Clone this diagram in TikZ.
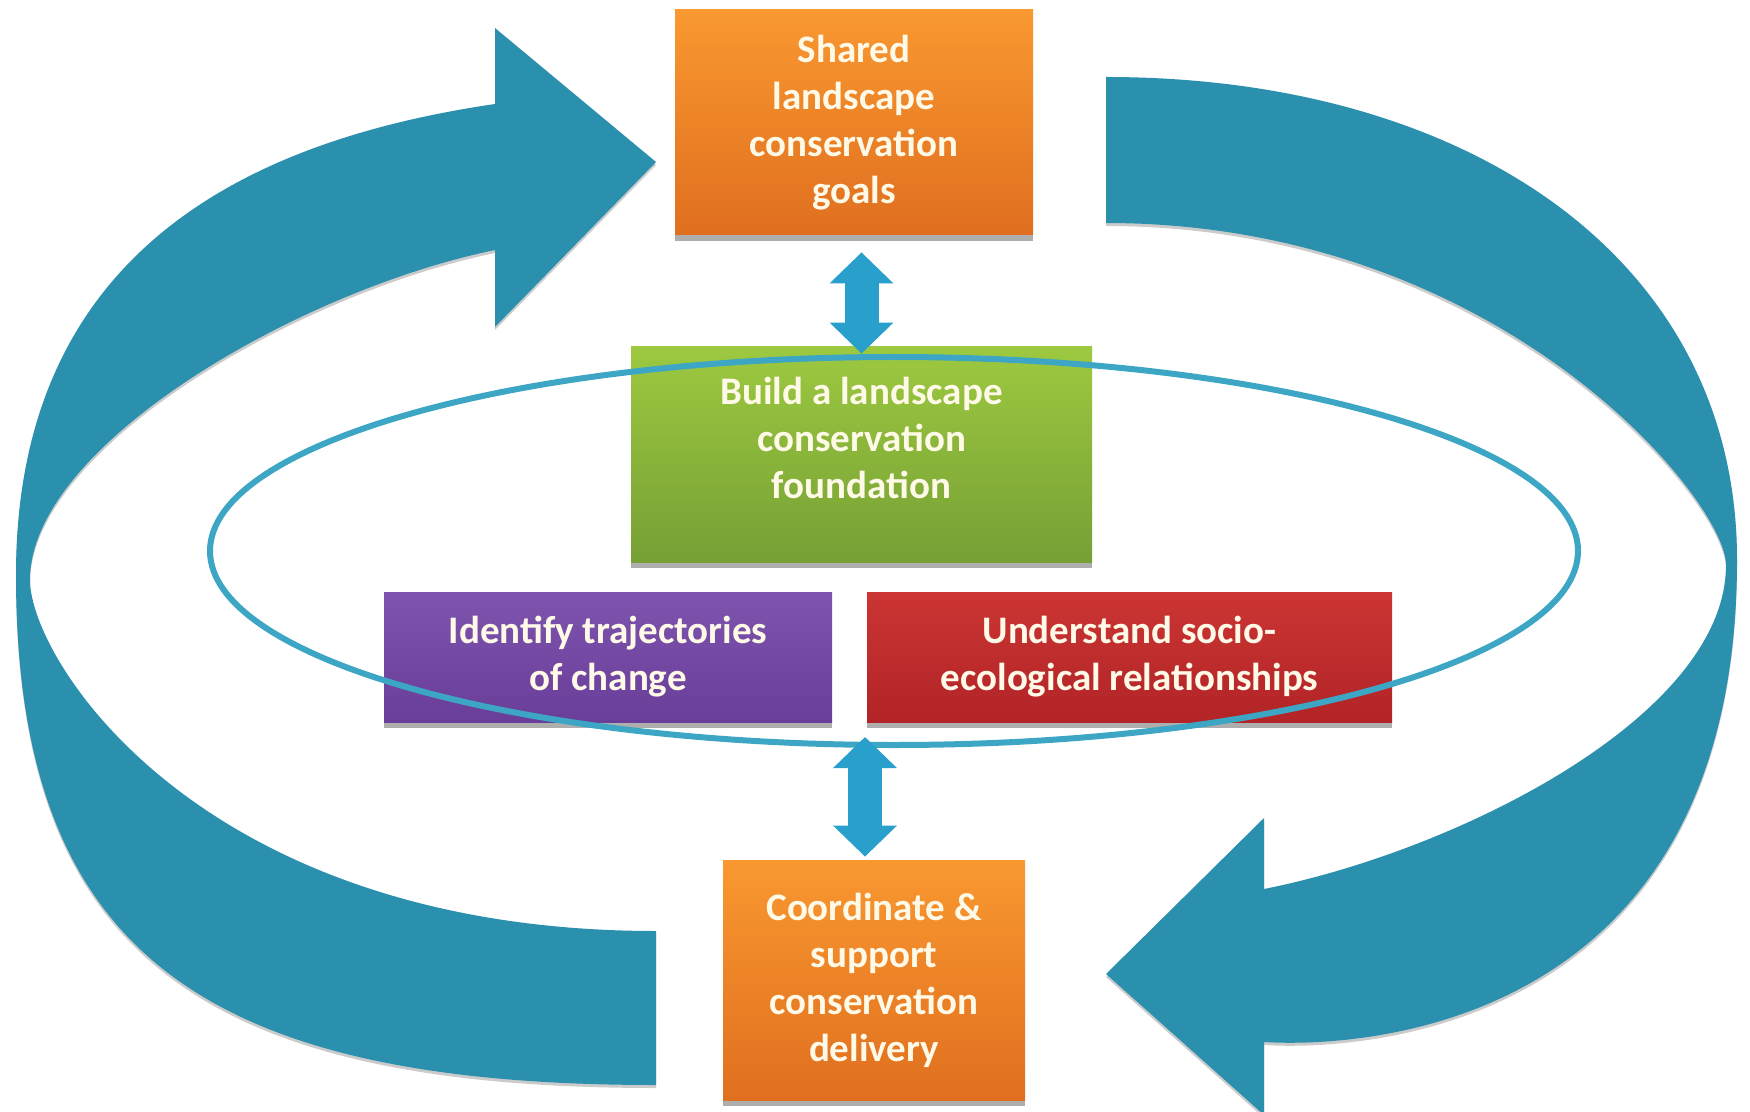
\documentclass[tikz,border=0pt]{standalone}
\usepackage{fontspec}
\setmainfont{Carlito}
\usetikzlibrary{arrows.meta,shapes.geometric,shadows}

\definecolor{cyclecol}{RGB}{42,144,174}
\definecolor{ringcol}{RGB}{60,166,196}
\definecolor{linkcol}{RGB}{40,160,203}
\definecolor{orangetop}{RGB}{249,152,48}
\definecolor{orangebot}{RGB}{224,111,31}
\definecolor{greentop}{RGB}{157,201,64}
\definecolor{greenbot}{RGB}{118,160,53}
\definecolor{purpletop}{RGB}{125,84,174}
\definecolor{purplebot}{RGB}{105,62,152}
\definecolor{redtop}{RGB}{203,53,51}
\definecolor{redbot}{RGB}{178,36,39}
\definecolor{textcream}{RGB}{255,249,232}

\tikzset{
    boxlabel/.style={align=center, text=textcream,
        font=\fontsize{19.5}{23.5}\selectfont\bfseries},
    box/.style={boxlabel, rectangle, inner sep=0pt,
        drop shadow={shadow xshift=0pt, shadow yshift=-3pt, fill=black!45, opacity=.7}},
    bigarrow/.style={fill=cyclecol,
        drop shadow={shadow xshift=0pt, shadow yshift=-1.5pt, fill=black!40, opacity=.5}},
    link/.style={draw=linkcol, line width=17pt,
        {Triangle[width=31pt,length=15.5pt]}-{Triangle[width=31pt,length=15.5pt]}},
}

\begin{document}
\begin{tikzpicture}[x=0.5pt, y=-0.5pt]
    % page
    \fill[white] (0,0) rectangle (1750,1112);
    \useasboundingbox (0,0) rectangle (1750,1112);

    % draw left cycle arrow
    \fill[bigarrow] (656,931) .. controls (200,931) and (30,660) .. (30,580)
        .. controls (30,445) and (300,290) .. (495,250)
        -- (495,327) -- (656,162) -- (495,28) -- (495,104)
        .. controls (250,140) and (16,250) .. (16,575)
        .. controls (16,950) and (200,1085) .. (656,1085) -- cycle;
    % draw right cycle arrow
    \fill[bigarrow] (1106,77) .. controls (1470,77) and (1737,260) .. (1737,560)
        .. controls (1737,1030) and (1360,1048) .. (1264,1042)
        -- (1264,1115) -- (1106,974) -- (1264,818) -- (1264,889)
        .. controls (1460,850) and (1726,715) .. (1726,565)
        .. controls (1726,500) and (1500,223) .. (1106,223) -- cycle;

    % draw boxes
    \node[box, top color=orangetop, bottom color=orangebot,
        minimum width=179pt, minimum height=112.5pt] (goals) at (854,122.5)
        {Shared\\landscape\\conservation\\goals};
    \node[box, top color=greentop, bottom color=greenbot,
        minimum width=230.5pt, minimum height=107.5pt] (found) at (861.5,454.5) {};
    \node[boxlabel] (foundtxt) at (861.5,438)
        {Build a landscape\\conservation\\foundation};
    \node[box, top color=purpletop, bottom color=purplebot,
        minimum width=224pt, minimum height=65pt] (traj) at (608,657)
        {Identify trajectories\\of change};
    \node[box, top color=redtop, bottom color=redbot,
        minimum width=262.5pt, minimum height=65pt] (socio) at (1129.5,657)
        {Understand socio-\\ecological relationships};
    \node[box, top color=orangetop, bottom color=orangebot,
        minimum width=151pt, minimum height=120pt] (deliver) at (874,980)
        {Coordinate \&\\support\\conservation\\delivery};

    % draw ring
    \node[draw=ringcol, line width=3pt, ellipse, inner sep=0pt,
        minimum width=684pt, minimum height=194pt] (ring) at (894,551) {};

    % draw double arrows
    \coordinate (ringlow) at (865,737);
    \draw[link, shorten <=8.5pt, shorten >=-3.5pt] (found.north |- goals.south) -- (found.north);
    \draw[link, shorten >=1.5pt] (ringlow) -- (ringlow |- deliver.north);

\end{tikzpicture}
\end{document}
